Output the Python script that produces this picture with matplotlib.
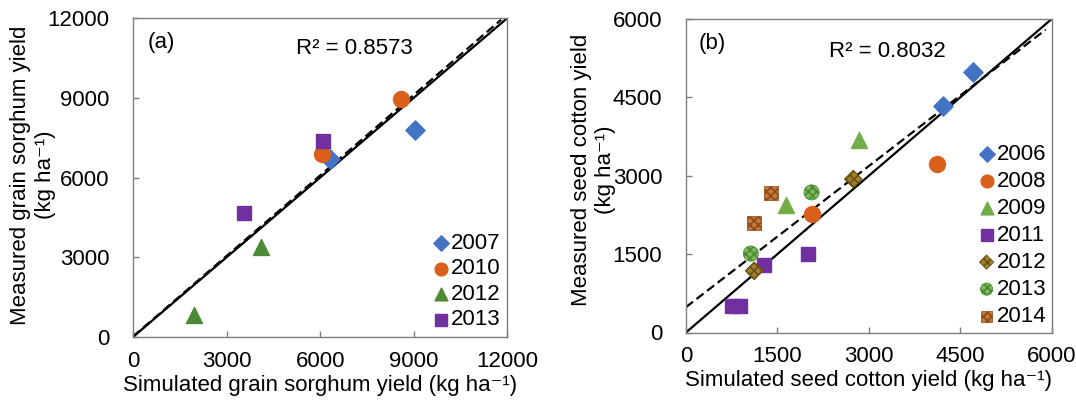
import matplotlib
matplotlib.use('Agg')
import matplotlib.pyplot as plt
import numpy as np

plt.rcParams['font.family'] = ['Liberation Sans', 'DejaVu Sans']
plt.rcParams['hatch.linewidth'] = 1.2

# ---------------- Panel (a): grain sorghum ----------------
a_years = ['2007', '2010', '2012', '2013']
a_sim_2007 = [6300, 9050]
a_meas_2007 = [6700, 7800]
a_sim_2010 = [6050, 8600]
a_meas_2010 = [6900, 8940]
a_sim_2012 = [1950, 4100]
a_meas_2012 = [830, 3400]
a_sim_2013 = [3570, 6080]
a_meas_2013 = [4650, 7380]
a_fit_slope, a_fit_intercept = 1.01, 20
a_r2 = 'R² = 0.8573'
a_ticks = [0, 3000, 6000, 9000, 12000]

# ---------------- Panel (b): seed cotton ----------------
b_years = ['2006', '2008', '2009', '2011', '2012', '2013', '2014']
b_sim_2006 = [4210, 4710]
b_meas_2006 = [4330, 4990]
b_sim_2008 = [4125, 2060]
b_meas_2008 = [3215, 2260]
b_sim_2009 = [2840, 1640]
b_meas_2009 = [3680, 2430]
b_sim_2011 = [750, 880, 1280, 2005]
b_meas_2011 = [500, 500, 1290, 1510]
b_sim_2012 = [1120, 2745]
b_meas_2012 = [1180, 2935]
b_sim_2013 = [1065, 2060]
b_meas_2013 = [1510, 2680]
b_sim_2014 = [1115, 1395]
b_meas_2014 = [2095, 2670]
b_fit_slope, b_fit_intercept = 0.90, 485
b_r2 = 'R² = 0.8032'
b_ticks = [0, 1500, 3000, 4500, 6000]

W, H = 1076, 400
fig = plt.figure(figsize=(W / 100, H / 100), dpi=100)
axa = fig.add_axes([0.1236, 0.1575, 0.348, 0.7975])
axb = fig.add_axes([0.6375, 0.16875, 0.340, 0.784])

FS = 16
spine_c = '#7f7f7f'

def style(ax, ticks):
    lim = ticks[-1]
    ax.set_xlim(0, lim)
    ax.set_ylim(0, lim)
    ax.set_xticks(ticks)
    ax.set_yticks(ticks)
    ax.tick_params(direction='in', length=4, width=1, color=spine_c,
                   labelsize=FS)
    ax.tick_params(axis='x', pad=10)
    ax.tick_params(axis='y', pad=17)
    for s in ax.spines.values():
        s.set_color(spine_c)
        s.set_linewidth(1)

def ylabel2(x1, x2, yc, line1, line2):
    fig.text(x1 / W, 1 - yc / H, line1, rotation=90, ha='center', va='center', fontsize=FS)
    fig.text(x2 / W, 1 - yc / H, line2, rotation=90, ha='center', va='center', fontsize=FS)

ms = 120
# --- panel a ---
lim = a_ticks[-1]
axa.plot([0, lim], [0, lim], color='black', lw=1.6, zorder=2)
xf = np.array([0, 11800])
axa.plot(xf, a_fit_slope * xf + a_fit_intercept, color='black', lw=1.6,
         ls=(0, (4, 2)), zorder=2)
axa.scatter(a_sim_2007, a_meas_2007, marker='D', s=ms * 0.8, color='#4472C4', label=a_years[0], zorder=3)
axa.scatter(a_sim_2010, a_meas_2010, marker='o', s=ms * 1.1, color='#D9601A', label=a_years[1], zorder=3)
axa.scatter(a_sim_2012, a_meas_2012, marker='^', s=ms * 1.1, color='#4E8A35', label=a_years[2], zorder=3)
axa.scatter(a_sim_2013, a_meas_2013, marker='s', s=ms * 0.9, color='#7030A0', label=a_years[3], zorder=3)
style(axa, a_ticks)
axa.text(0.04, 0.955, '(a)', transform=axa.transAxes, fontsize=FS, va='top', ha='left')
axa.text(0.59, 0.905, a_r2, transform=axa.transAxes, fontsize=FS, va='center', ha='center')
axa.legend(loc='lower right', frameon=False, fontsize=FS, handletextpad=-0.3,
           labelspacing=0.2, borderaxespad=0.1, handlelength=1.5, markerscale=0.8,
           borderpad=0.2)
axa.set_xlabel('Simulated grain sorghum yield (kg ha⁻¹)', fontsize=FS, labelpad=2)
ylabel2(21, 46, 175, 'Measured grain sorghum yield', '(kg ha⁻¹)')

# --- panel b ---
lim = b_ticks[-1]
axb.plot([0, lim], [0, lim], color='black', lw=1.6, zorder=2)
xf = np.array([0, 5900])
axb.plot(xf, b_fit_slope * xf + b_fit_intercept, color='black', lw=1.6,
         ls=(0, (4, 2)), zorder=2)
axb.scatter(b_sim_2006, b_meas_2006, marker='D', s=ms * 0.8, color='#4472C4', label=b_years[0], zorder=3)
axb.scatter(b_sim_2008, b_meas_2008, marker='o', s=ms * 1.1, color='#D9601A', label=b_years[1], zorder=3)
axb.scatter(b_sim_2009, b_meas_2009, marker='^', s=ms * 1.1, color='#70AD47', label=b_years[2], zorder=3)
axb.scatter(b_sim_2011, b_meas_2011, marker='s', s=ms * 0.9, color='#7030A0', label=b_years[3], zorder=3)
axb.scatter(b_sim_2012, b_meas_2012, marker='D', s=ms * 0.7, facecolor='#A08030', edgecolor='#6B5010',
            hatch='xxxx', linewidths=0.5, label=b_years[4], zorder=3)
axb.scatter(b_sim_2013, b_meas_2013, marker='o', s=ms * 1.0, facecolor='#7DB85A', edgecolor='#4A8A30',
            hatch='xxxx', linewidths=0.5, label=b_years[5], zorder=3)
axb.scatter(b_sim_2014, b_meas_2014, marker='s', s=ms * 0.8, facecolor='#C8783A', edgecolor='#8A4A1A',
            hatch='xxxx', linewidths=0.5, label=b_years[6], zorder=3)
style(axb, b_ticks)
axb.text(0.035, 0.955, '(b)', transform=axb.transAxes, fontsize=FS, va='top', ha='left')
axb.text(0.55, 0.895, b_r2, transform=axb.transAxes, fontsize=FS, va='center', ha='center')
axb.legend(loc='lower right', frameon=False, fontsize=FS, handletextpad=-0.3,
           labelspacing=0.27, borderaxespad=0.05, handlelength=1.5, markerscale=0.8,
           borderpad=0.2)
axb.set_xlabel('Simulated seed cotton yield (kg ha⁻¹)', fontsize=FS, labelpad=2)
ylabel2(581, 606, 170, 'Measured seed cotton yield', '(kg ha⁻¹)')

fig.savefig('out.png', dpi=100)
